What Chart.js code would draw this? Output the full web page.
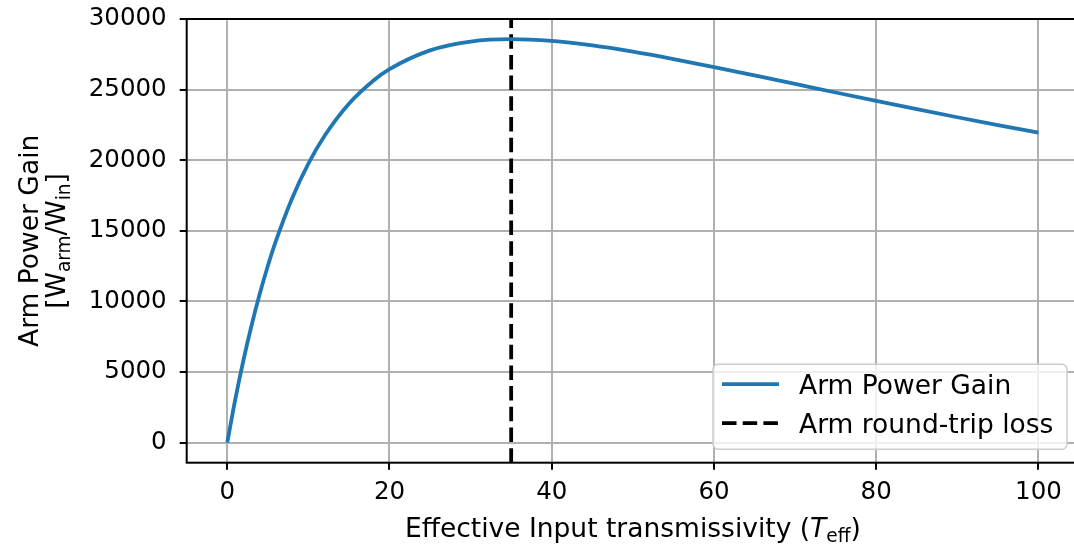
<!DOCTYPE html>
<html>
<head>
<meta charset="utf-8">
<script src="https://cdn.jsdelivr.net/npm/chart.js@4"></script>
<style>
  html, body { margin: 0; padding: 0; background: #fff; overflow: hidden; }
  #wrap { width: 1090px; height: 544px; }
</style>
</head>
<body>
<div id="wrap"><canvas id="gainChart" width="1090" height="544"></canvas></div>
<script>
// ---- data ----
const tValues = [0, 1, 2, 3, 4, 5, 6, 8, 10, 12, 15, 18, 20, 25, 30, 35, 40, 45, 50, 55, 60, 65, 70, 75, 80, 85, 90, 95, 100];
const gainValues = [0, 3086, 5844, 8310, 10519, 12500, 14277, 17307, 19753, 21729, 24000, 25632, 26446, 27778, 28402, 28571, 28444, 28125, 27682, 27160, 26593, 26000, 25397, 24793, 24197, 23611, 23040, 22485, 21948];
const lossT = 35;
const xTicks = [0, 20, 40, 60, 80, 100];
const yTicks = [0, 5000, 10000, 15000, 20000, 25000, 30000];
const xRange = [-5, 105];
const yRange = [-1430, 30000];
const seriesNames = ["Arm Power Gain", "Arm round-trip loss"];

const FONT = "'DejaVu Sans', sans-serif";
const TICK_FS = 24.5;
const FS = 26.5;
const LW = 3.8;
const DASH = [14.5, 6.2];

// draw text made of pieces (subscripts, italic)
function partFont(p) {
  return (p.it ? "italic " : "") + (p.sub ? FS * 0.7 : FS) + "px " + FONT;
}
function richWidth(ctx, parts) {
  let w = 0;
  parts.forEach(p => {
    ctx.font = partFont(p);
    w += ctx.measureText(p.t).width;
  });
  return w;
}
function drawRich(ctx, parts, x, y) {
  let cx = x;
  parts.forEach(p => {
    ctx.font = partFont(p);
    ctx.fillText(p.t, cx, p.sub ? y + FS * 0.2 : y);
    cx += ctx.measureText(p.t).width;
  });
}

const decorPlugin = {
  id: "decor",
  afterDatasetsDraw(chart) {
    const ctx = chart.ctx;
    const ca = chart.chartArea;
    ctx.save();
    // frame
    ctx.strokeStyle = "#000";
    ctx.lineWidth = 2;
    ctx.strokeRect(ca.left, ca.top, ca.right - ca.left, ca.bottom - ca.top);

    // legend
    const bw = 354, bh = 85;
    const bx = ca.right - 12 - bw, by = ca.bottom - 13.5 - bh;
    ctx.beginPath();
    ctx.roundRect(bx, by, bw, bh, 5);
    ctx.fillStyle = "rgba(255,255,255,0.8)";
    ctx.fill();
    ctx.strokeStyle = "#cccccc";
    ctx.lineWidth = 1.5;
    ctx.stroke();
    const rows = [
      { color: "#1f77b4", dash: [] },
      { color: "#000000", dash: DASH }
    ];
    rows.forEach((r, i) => {
      const ly = by + 20 + i * 39;
      ctx.beginPath();
      ctx.setLineDash(r.dash);
      ctx.strokeStyle = r.color;
      ctx.lineWidth = LW;
      ctx.moveTo(bx + 9, ly);
      ctx.lineTo(bx + 66, ly);
      ctx.stroke();
      ctx.setLineDash([]);
      ctx.fillStyle = "#000";
      ctx.font = FS + "px " + FONT;
      ctx.textBaseline = "alphabetic";
      ctx.textAlign = "left";
      ctx.fillText(seriesNames[i], bx + 86, ly + 10);
    });

    // x axis title
    ctx.fillStyle = "#000";
    ctx.textBaseline = "alphabetic";
    ctx.textAlign = "left";
    const xt = [{ t: "Effective Input transmissivity (" }, { t: "T", it: true }, { t: "eff", sub: true }, { t: ")" }];
    const xw = richWidth(ctx, xt);
    drawRich(ctx, xt, (ca.left + ca.right) / 2 - xw / 2, 537);

    // y axis title (two lines, rotated)
    const midY = (ca.top + ca.bottom) / 2;
    ctx.translate(0, midY);
    ctx.rotate(-Math.PI / 2);
    const l1 = [{ t: "Arm Power Gain" }];
    const l2 = [{ t: "[W" }, { t: "arm", sub: true }, { t: "/W" }, { t: "in", sub: true }, { t: "]" }];
    drawRich(ctx, l1, -richWidth(ctx, l1) / 2, 38);
    drawRich(ctx, l2, -richWidth(ctx, l2) / 2, 65);
    ctx.restore();
  }
};

const gainPoints = tValues.map((t, i) => ({ x: t, y: gainValues[i] }));
const lossPoints = [{ x: lossT, y: yRange[0] }, { x: lossT, y: yRange[1] }];

new Chart(document.getElementById("gainChart"), {
  type: "line",
  data: {
    datasets: [
      {
        label: seriesNames[0],
        data: gainPoints,
        borderColor: "#1f77b4",
        borderWidth: LW,
        pointRadius: 0,
        cubicInterpolationMode: "monotone",
        fill: false
      },
      {
        label: seriesNames[1],
        data: lossPoints,
        borderColor: "#000000",
        borderWidth: LW,
        borderDash: DASH,
        pointRadius: 0,
        fill: false
      }
    ]
  },
  options: {
    responsive: false,
    animation: false,
    layout: { padding: { top: 19, right: 11, left: 0, bottom: 0 } },
    plugins: { legend: { display: false }, tooltip: { enabled: false } },
    scales: {
      x: {
        type: "linear",
        min: xRange[0],
        max: xRange[1],
        afterBuildTicks: s => { s.ticks = xTicks.map(v => ({ value: v })); },
        afterFit: s => { s.height = 81.3; s.paddingLeft = 0; s.paddingRight = 0; },
        grid: { color: "#b0b0b0", lineWidth: 2, tickColor: "#000", tickLength: 7, tickWidth: 2 },
        border: { display: false },
        ticks: { color: "#000", font: { family: FONT, size: TICK_FS }, padding: 8, maxRotation: 0 }
      },
      y: {
        type: "linear",
        min: yRange[0],
        max: yRange[1],
        afterBuildTicks: s => { s.ticks = yTicks.map(v => ({ value: v })); },
        afterFit: s => { s.width = 186.7; s.paddingTop = 0; s.paddingBottom = 0; },
        grid: { color: "#b0b0b0", lineWidth: 2, tickColor: "#000", tickLength: 7, tickWidth: 2 },
        border: { display: false },
        ticks: { color: "#000", font: { family: FONT, size: TICK_FS }, padding: 13, callback: v => String(v) }
      }
    }
  },
  plugins: [decorPlugin]
});
</script>
</body>
</html>
